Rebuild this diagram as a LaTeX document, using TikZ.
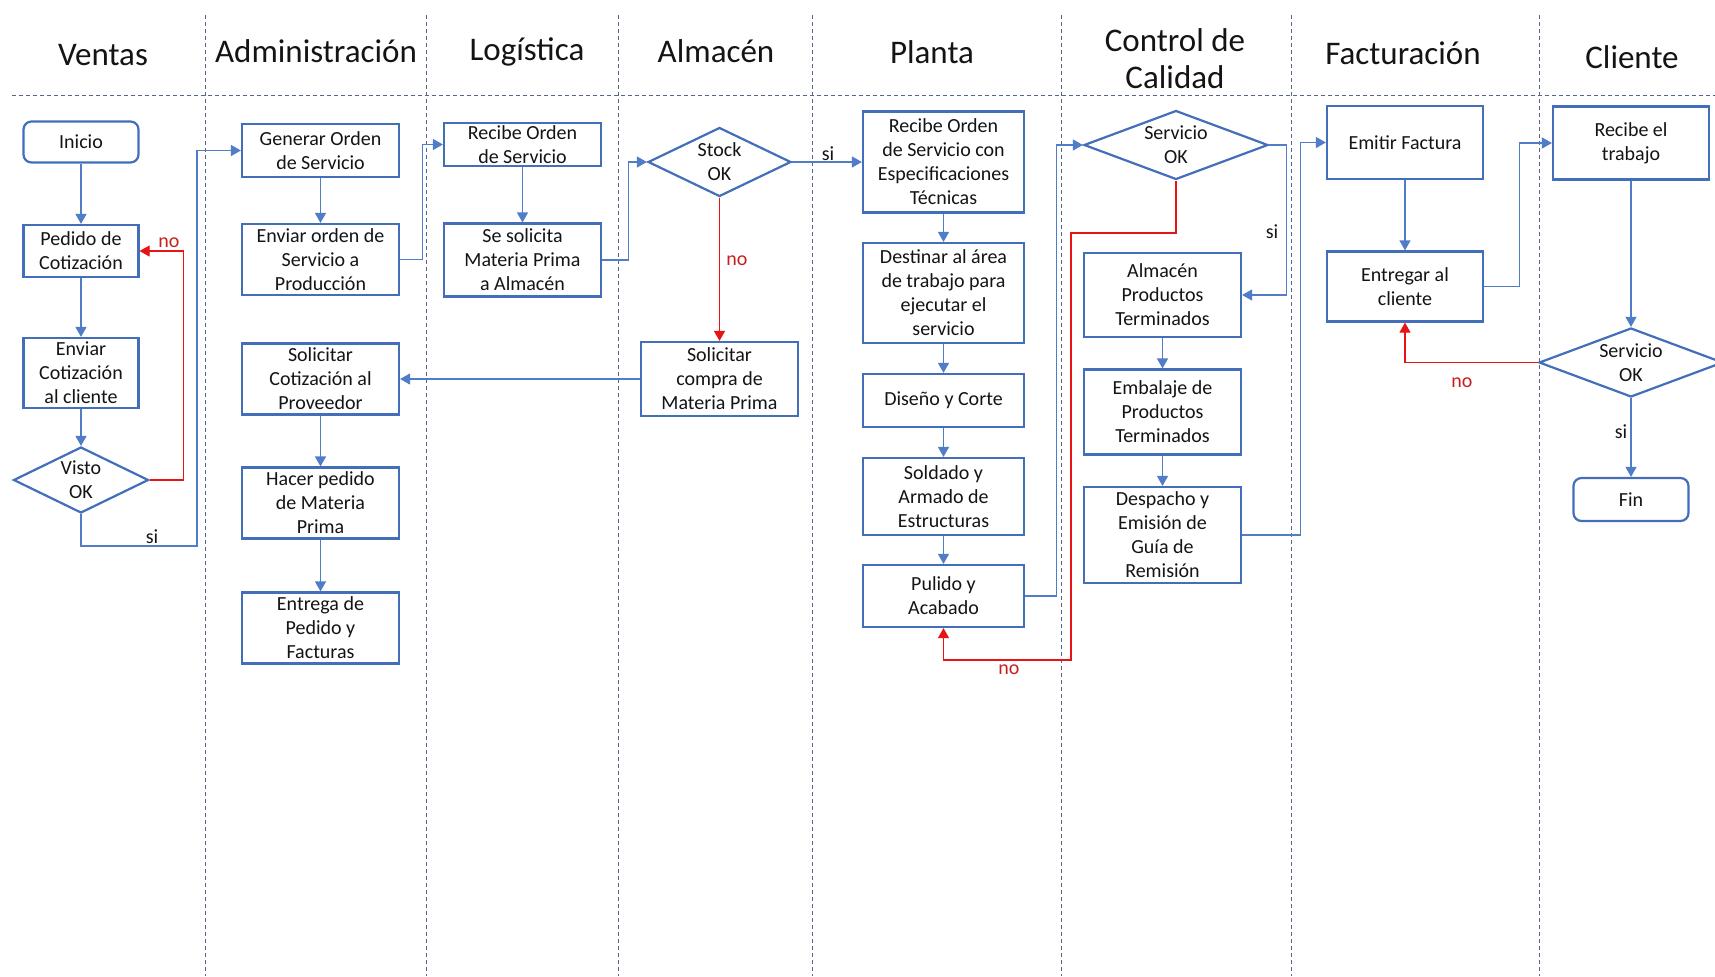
\documentclass[tikz,border=0pt]{standalone}
\usepackage{fontspec}
\setmainfont{Carlito}
\usetikzlibrary{shapes.geometric,arrows.meta}
\definecolor{boxblue}{RGB}{66,110,186}
\definecolor{lineblue}{RGB}{80,125,200}
\definecolor{linered}{RGB}{230,20,20}
\definecolor{nored}{RGB}{200,30,30}
\definecolor{divcol}{RGB}{85,105,135}
\definecolor{txt}{RGB}{20,20,20}
\newcommand\bodyfont{\fontsize{10}{12}\selectfont}
\newcommand\hdrfont{\fontsize{16.5}{18.6}\selectfont}
\tikzset{
  box/.style={draw=boxblue, line width=1.1pt, fill=white, align=center, inner sep=0pt, font=\bodyfont, text=txt},
  rbox/.style={box, rounded corners=4pt},
  dia/.style={box, diamond, inner sep=-2pt},
  conn/.style={draw=lineblue, line width=0.6pt, -{Triangle[length=5pt,width=5.5pt]}},
  rconn/.style={conn, draw=linered},
  lane/.style={draw=divcol, line width=0.5pt, dash pattern=on 2pt off 1.5pt},
  hdr/.style={font=\hdrfont, text=txt, align=center, inner sep=0pt},
  lbl/.style={font=\bodyfont, text=txt, inner sep=0pt},
  rlbl/.style={lbl, text=nored},
}
\begin{document}
\begin{tikzpicture}[x=0.5pt,y=-0.5pt]
\useasboundingbox (0,0) rectangle (1715,976);
\fill[white] (0,0) rectangle (1715,976);
% lanes
\draw[lane] (12,95) -- (1715,95);
\foreach \xx in {205.5,426.5,618,812.5,1061,1291.5,1539}
  \draw[lane] (\xx,15) -- (\xx,976);
% headers
\node[hdr] (h1) at (103,55) {Ventas};
\node[hdr] (h2) at (316,51) {Administración};
\node[hdr] (h3) at (527,52) {Logística};
\node[hdr] (h4) at (716,51) {Almacén};
\node[hdr] (h5) at (932,52) {Planta};
\node[hdr] (h6) at (1175,59) {Control de\\Calidad};
\node[hdr] (h7) at (1403,53) {Facturación};
\node[hdr] (h8) at (1632,57) {Cliente};
% Ventas
\node[rbox, minimum width=57.5pt, minimum height=20.5pt] (inicio) at (81,142) {Inicio};
\node[box, minimum width=57.5pt, minimum height=26pt] (pedido) at (81,251) {Pedido de\\Cotización};
\node[box, minimum width=57.5pt, minimum height=35pt] (enviarcot) at (81,373) {Enviar\\Cotización\\al cliente};
\node[dia, aspect=2.05, minimum width=67.5pt, minimum height=33pt] (visto) at (81,480) {Visto\\OK};
% Administracion
\node[box, minimum width=78.5pt, minimum height=26.5pt] (generar) at (320.5,150.5) {Generar Orden\\de Servicio};
\node[box, minimum width=78.5pt, minimum height=35.5pt] (enviarord) at (320.5,259.5) {Enviar orden de\\Servicio a\\Producción};
\node[box, minimum width=78.5pt, minimum height=35.5pt] (solcot) at (320.5,379) {Solicitar\\Cotización al\\Proveedor};
\node[box, minimum width=78.5pt, minimum height=35.5pt] (hacer) at (320.5,503) {Hacer pedido\\de Materia\\Prima};
\node[box, minimum width=78.5pt, minimum height=35.5pt] (entrega) at (320.5,628) {Entrega de\\Pedido y\\Facturas};
% Logistica
\node[box, minimum width=78.5pt, minimum height=21.5pt] (recibeord) at (522.5,144.5) {Recibe Orden\\de Servicio};
\node[box, minimum width=78.5pt, minimum height=36.5pt] (sesolicita) at (522.5,260) {Se solicita\\Materia Prima\\a Almacén};
% Almacen
\node[dia, aspect=2.07, minimum width=71.5pt, minimum height=34.5pt] (stock) at (719.5,162) {Stock\\OK};
\node[box, minimum width=78.5pt, minimum height=37pt] (solcompra) at (719.5,379) {Solicitar\\compra de\\Materia Prima};
% Planta
\node[box, minimum width=80.5pt, minimum height=50.5pt] (recibeesp) at (943.5,162) {Recibe Orden\\de Servicio con\\Especificaciones\\Técnicas};
\node[box, minimum width=80.5pt, minimum height=50pt] (destinar) at (943.5,293) {Destinar al área\\de trabajo para\\ejecutar el\\servicio};
\node[box, minimum width=80.5pt, minimum height=26.5pt] (diseno) at (943.5,400.5) {Diseño y Corte};
\node[box, minimum width=80.5pt, minimum height=38.5pt] (soldado) at (943.5,496.5) {Soldado y\\Armado de\\Estructuras};
\node[box, minimum width=80.5pt, minimum height=31pt] (pulido) at (943.5,596) {Pulido y\\Acabado};
% Control de Calidad
\node[dia, aspect=2.67, minimum width=92pt, minimum height=34.5pt] (servok) at (1176,145) {Servicio\\OK};
\node[box, minimum width=78.5pt, minimum height=42pt] (almpt) at (1162.5,295) {Almacén\\Productos\\Terminados};
\node[box, minimum width=78.5pt, minimum height=42.5pt] (embalaje) at (1162.5,412) {Embalaje de\\Productos\\Terminados};
\node[box, minimum width=78.5pt, minimum height=48pt] (despacho) at (1162.5,535) {Despacho y\\Emisión de\\Guía de\\Remisión};
% Facturacion
\node[box, minimum width=78pt, minimum height=36.5pt] (emitir) at (1405,142.5) {Emitir Factura};
\node[box, minimum width=78pt, minimum height=35pt] (entregar) at (1405,286.5) {Entregar al\\cliente};
% Cliente
\node[box, minimum width=78pt, minimum height=36.5pt] (recibetrab) at (1631,143) {Recibe el\\trabajo};
\node[dia, aspect=2.67, minimum width=92pt, minimum height=34.5pt] (servok2) at (1631,362.5) {Servicio\\OK};
\node[rbox, minimum width=57.5pt, minimum height=21.5pt] (fin) at (1631,499.5) {Fin};
% connectors Ventas
\draw[conn] (inicio) -- (pedido);
\draw[conn] (pedido) -- (enviarcot);
\draw[conn] (enviarcot) -- (visto);
\draw[rconn] (visto.east) -- ++(34,0) |- (pedido.east);
\node[rlbl] (lno1) at (169,243) {no};
\coordinate (s1) at (197,546);
\draw[conn] (visto.south) |- (s1) |- (generar.west);
\node[lbl] (lsi1) at (152,537) {si};
% Administracion / Logistica
\draw[conn] (generar) -- (enviarord);
\draw[conn] (enviarord.east) -- ++(22,0) |- (recibeord.west);
\draw[conn] (recibeord) -- (sesolicita);
\draw[conn] (sesolicita.east) -- ++(26,0) |- (stock.west);
\draw[rconn] (stock) -- (solcompra);
\node[rlbl, anchor=west] (lno2) at (726,261) {no};
\draw[conn] (stock) -- (recibeesp);
\node[lbl] (lsi2) at (828,154) {si};
\draw[conn] (solcompra) -- (solcot);
\draw[conn] (solcot) -- (hacer);
\draw[conn] (hacer) -- (entrega);
% Planta
\draw[conn] (recibeesp) -- (destinar);
\draw[conn] (destinar) -- (diseno);
\draw[conn] (diseno) -- (soldado);
\draw[conn] (soldado) -- (pulido);
\draw[conn] (pulido.east) -- ++(31,0) |- (servok.west);
\coordinate (r1) at (1071,233);
\coordinate (r2) at (1071,660);
\draw[rconn] (servok.south) |- (r1) -- (r2) -| (pulido.south);
\node[rlbl] (lno3) at (1009,670) {no};
% Control de Calidad
\draw[conn] (servok.east) -- ++(17,0) |- (almpt.east);
\node[lbl] (lsi3) at (1272,232) {si};
\draw[conn] (almpt) -- (embalaje);
\draw[conn] (embalaje) -- (despacho);
\draw[conn] (despacho.east) -- ++(58,0) |- (emitir.west);
% Facturacion / Cliente
\draw[conn] (emitir) -- (entregar);
\draw[conn] (entregar.east) -- ++(35,0) |- (recibetrab.west);
\draw[conn] (recibetrab) -- (servok2);
\draw[rconn] (servok2.west) -| (entregar.south);
\node[rlbl] (lno4) at (1462,383) {no};
\draw[conn] (servok2) -- (fin);
\node[lbl] (lsi4) at (1621,432) {si};
\end{tikzpicture}
\end{document}
